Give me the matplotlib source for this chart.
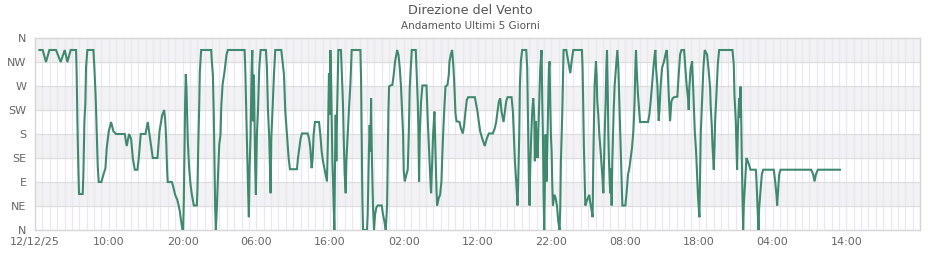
import matplotlib
matplotlib.use("Agg")
import matplotlib.pyplot as plt

# ---- data: hours since 12/12/25 00:00, wind direction in degrees ----
hours = [
    0.59, 1.04, 1.49, 1.95, 2.85, 3.48, 4.03, 4.39, 4.84, 5.57, 5.65, 5.75, 5.88, 5.97, 6.47, 6.56, 6.70, 6.83, 6.92, 7.10,
    7.92, 8.05, 8.24, 8.37, 8.51, 8.64, 9.0, 9.28, 9.55, 9.73, 10.0, 10.32, 10.63, 11.0, 12.17, 12.44, 12.76, 13.03, 13.26, 13.53,
    13.89, 14.07, 14.34, 14.98, 15.29, 15.52, 15.88, 15.97, 16.61, 16.88, 17.24, 17.51, 17.65, 17.78, 17.92, 18.0,
    18.55, 18.73, 19.0, 19.28, 19.46, 19.64, 19.82, 20.0, 20.09, 20.18, 20.27, 20.36, 20.45, 20.54, 20.63, 20.72, 20.9, 21.09,
    21.27, 21.54, 21.95, 22.04, 22.13, 22.26, 22.35, 22.53, 23.89, 23.98, 24.12, 24.25, 24.34, 24.43, 24.52, 24.66, 24.8, 24.98,
    25.16, 25.25, 25.43, 25.7, 25.97, 26.15, 28.42, 28.51, 28.64, 28.78, 28.91, 29.0, 29.1, 29.23, 29.37, 29.46, 29.55, 29.68,
    29.77, 29.86, 29.95, 30.09, 30.23, 30.41, 30.59, 31.31, 31.45, 31.58, 31.76, 31.95, 32.04, 32.22, 32.4, 32.58, 33.39, 33.57,
    33.76, 33.94, 34.16, 34.39, 34.57, 35.52, 35.66, 35.84, 36.02, 36.2,
    36.97, 37.15, 37.33, 37.51, 37.65, 37.78, 37.96, 38.51, 38.69, 38.87, 39.05, 39.23, 39.41, 39.59, 39.73, 39.86, 39.95, 40.05,
    40.14, 40.23, 40.32, 40.41, 40.5, 40.59, 40.68, 40.77, 40.86, 40.95, 41.04, 41.13, 41.49, 41.58, 41.76, 41.86, 41.99, 42.13,
    42.22, 42.4, 42.58, 42.76, 42.94, 44.12, 44.21, 44.3, 44.39, 44.48, 45.02, 45.11, 45.29, 45.38, 45.48, 45.57, 45.66, 45.75,
    45.84, 45.97, 46.11, 46.29, 46.47, 47.01, 47.19, 47.38, 47.56, 47.74, 47.83, 47.92, 48.01, 48.19, 48.46, 48.64, 48.82, 49.0,
    49.1, 49.28, 49.46, 49.64, 49.77, 49.91, 50.0, 50.14, 50.36, 50.54, 50.68, 50.81, 50.95, 51.09, 51.63, 51.72, 51.9, 51.99,
    52.08, 52.17, 52.35, 52.53, 53.08, 53.26, 53.44, 53.62, 53.71, 53.85, 53.98, 54.16, 54.3, 54.43, 54.52,
    54.75, 54.93, 55.11, 55.2, 55.34, 55.48, 55.66, 55.93, 56.11, 56.2, 56.38, 56.56, 56.65, 56.74, 56.88, 57.01, 57.15, 57.56,
    57.74, 58.01, 58.19, 58.37, 58.55, 58.73, 59.64, 59.82, 60.0, 60.18, 60.36, 60.63, 60.99, 61.27, 61.54, 62.08, 62.35, 62.53,
    62.71, 62.9, 63.08, 63.26, 63.53, 63.71, 63.89, 64.07, 64.62, 64.8, 64.93, 65.07, 65.25, 65.43, 65.52, 65.66, 65.75, 65.88,
    66.06, 66.61, 66.74, 66.88, 66.97, 67.06, 67.15, 67.29, 67.42, 67.56, 67.69, 67.78, 67.87, 68.01, 68.14, 68.24, 68.37, 68.51,
    68.69, 68.78, 68.87, 68.96, 69.05, 69.14, 69.23, 69.37, 69.5, 69.68, 69.77, 69.86, 69.95, 70.05, 70.14, 70.23, 70.41, 70.59,
    70.77, 70.95, 71.13, 71.22, 71.31, 71.49, 71.67, 72.04, 72.31, 72.58, 72.76, 72.99, 74.16,
    74.25, 74.34, 74.43, 74.52, 74.62, 74.8, 74.98, 75.16, 75.25, 75.43, 75.61, 75.7, 75.79, 75.88, 76.06, 76.15, 76.24, 76.38,
    76.52, 76.7, 76.88, 76.97, 77.06, 77.15, 77.24, 77.38, 77.47, 77.56, 77.65, 77.74, 77.83, 77.92, 78.01, 78.1, 78.19, 78.28,
    78.37, 78.46, 78.6, 78.78, 78.96, 79.1, 79.23, 79.41, 79.55, 79.64, 80.05, 80.23, 80.41, 80.59, 80.77, 80.95, 81.13, 81.22,
    81.31, 81.4, 81.49, 81.58, 81.76, 82.04, 83.12, 83.3, 83.48, 83.67, 83.85, 84.03, 84.12, 84.21, 84.39, 84.57, 84.66, 84.84,
    85.02, 85.29, 85.48, 85.66, 85.75, 85.93, 86.11, 86.29, 86.47, 86.65, 87.1, 87.28, 87.47, 87.65, 88.01, 88.19, 88.37, 88.55,
    88.64, 88.73, 88.91, 89.1, 89.28, 89.46, 89.64, 89.82, 89.91, 90.09, 90.18, 90.27, 90.45, 90.63, 90.81,
    91.13, 91.36, 91.54, 91.62, 91.76, 91.86, 92.04, 92.13, 92.22, 92.4, 92.58, 92.76, 94.57, 94.75, 94.84, 95.02, 95.11, 95.2,
    95.29, 95.38, 95.48, 95.57, 95.66, 95.75, 95.84, 95.93, 96.02, 96.11, 96.29, 96.47, 96.65, 96.83, 97.01, 97.74, 97.83, 97.96,
    98.1, 98.19, 98.37, 98.55, 98.73, 100.18, 100.36, 100.54, 100.63, 100.72, 100.9, 101.09, 105.25, 105.52, 105.7, 105.88,
    106.15, 109.14,
]
direction = [
    337.5, 337.5, 315, 337.5, 337.5, 315, 337.5, 315, 337.5, 337.5, 292.5, 202.5, 113, 67.5, 67.5, 104, 204, 238, 305, 337.5,
    337.5, 305, 244, 182, 119, 90, 90, 104, 116, 154, 185, 202.5, 185, 180, 180, 157.5, 180, 171, 135, 113,
    113, 135, 180, 180, 202.5, 180, 144, 135, 135, 185, 215, 225, 207, 172, 110, 90,
    90, 82, 66, 57, 47, 35, 16, 0, 0, 54, 147, 241, 292.5, 266, 216, 166, 116, 85,
    66, 46, 46, 82, 154, 229, 297, 337.5, 337.5, 316, 291, 210, 129, 41, 0, 41, 97, 160,
    179, 229, 272, 297, 329, 337.5, 337.5, 304, 222, 141, 66, 24, 116, 179, 297, 337.5, 204, 291,
    204, 116, 66, 179, 222, 304, 337.5, 337.5, 304, 229, 172, 69, 172, 229, 291, 337.5, 337.5, 316,
    291, 222, 179, 135, 114, 114, 135, 154, 172, 181,
    181, 172, 154, 116, 135, 179, 202.5, 202.5, 179, 147, 129, 116, 104, 91, 179, 294, 216, 337.5,
    294, 216, 129, 91, 44, 0, 129, 216, 129, 216, 272, 337.5, 337.5, 304, 235, 172, 104, 69,
    129, 179, 229, 272, 337.5, 337.5, 285, 172, 60, 0, 0, 29, 154, 197, 147, 247, 154, 91,
    41, 0, 29, 42, 46, 46, 29, 16, 0, 47, 135, 222, 269, 271, 272, 291, 316, 329,
    337.5, 329, 304, 266, 222, 179, 110, 91, 104, 113, 179, 266, 304, 337.5, 337.5, 306, 241, 185,
    91, 179, 241, 271, 271, 204, 147, 91, 69, 129, 179, 222, 147, 79, 46,
    60, 66, 91, 129, 179, 222, 269, 272, 291, 316, 329, 337.5, 322, 304, 266, 219, 204, 202.5,
    191, 181, 197, 222, 244, 249, 249, 235, 222, 202.5, 185, 172, 157.5, 172, 181, 181, 191, 202.5,
    222, 241, 247, 222, 202.5, 222, 241, 249, 249, 222, 179, 129, 91, 46, 91, 179, 272, 316,
    337.5, 337.5, 304, 179, 91, 46, 116, 179, 222, 247, 216, 129, 204, 179, 135, 179, 241, 304,
    337.5, 241, 179, 66, 0, 91, 179, 91, 179, 304, 316, 241, 179, 147, 85, 46, 66, 60,
    46, 16, 0, 41, 129, 216, 337.5, 337.5, 316, 294, 316, 337.5, 337.5,
    304, 229, 154, 104, 46, 54, 60, 66, 54, 41, 24, 129, 204, 272, 316, 291, 241, 216,
    179, 147, 110, 91, 69, 129, 179, 241, 304, 337.5, 272, 179, 129, 91, 69, 116, 46, 129,
    179, 222, 272, 304, 337.5, 304, 241, 154, 91, 46, 46, 72, 104, 116, 135, 154, 185, 210,
    247, 304, 337.5, 304, 254, 202.5, 202.5, 216, 241, 272, 304, 329, 337.5, 304, 272, 205, 222, 272,
    304, 316, 329, 337.5, 316, 254, 204, 241, 247, 249, 250, 291, 329, 337.5, 337.5, 304, 269, 247,
    225, 269, 304, 316, 254, 185, 147, 91, 60, 24, 104, 179, 241, 304, 337.5,
    329, 297, 266, 232, 197, 160, 113, 154, 204, 254, 310, 337.5, 337.5, 310, 254, 204, 160, 113,
    179, 216, 247, 210, 269, 216, 129, 66, 0, 47, 91, 135, 129, 122, 113, 113, 91, 47,
    0, 41, 72, 104, 113, 113, 91, 66, 46, 66, 104, 113, 113, 104, 91, 104,
    113, 113,
]

y_ticks = [0, 45, 90, 135, 180, 225, 270, 315, 360]
y_labels = ["N", "NE", "E", "SE", "S", "SW", "W", "NW", "N"]
x_ticks = [0, 10, 20, 30, 40, 50, 60, 70, 80, 90, 100, 110]
x_labels = ["12/12/25", "10:00", "20:00", "06:00", "16:00", "02:00",
            "12:00", "22:00", "08:00", "18:00", "04:00", "14:00"]
title = "Direzione del Vento"
subtitle = "Andamento Ultimi 5 Giorni"

fig = plt.figure(figsize=(9.4, 2.6), dpi=100)
ax = fig.add_axes([35 / 940, 30 / 260, 885 / 940, 192 / 260])

ax.set_xlim(0, 120)
ax.set_ylim(0, 360)

# alternating bands
for lo in (45, 135, 225, 315):
    ax.axhspan(lo, lo + 45, color="#f2f2f2", zorder=0, lw=0)
# hourly vertical grid
for h in range(1, 120):
    ax.axvline(h, color="#e8e6f8", lw=0.9, zorder=1)
# horizontal grid
for yv in y_ticks[1:-1]:
    ax.axhline(yv, color="#dedede", lw=0.9, zorder=1)

ax.plot(hours, direction, color="#3f8a6f", lw=1.5, zorder=3,
        solid_joinstyle="miter")

ax.set_yticks(y_ticks)
ax.set_yticklabels(y_labels)
ax.set_xticks(x_ticks)
ax.set_xticklabels(x_labels)
ax.tick_params(length=0, labelsize=8, colors="#666666", pad=5)
ax.tick_params(axis="y", pad=6)
for s in ax.spines.values():
    s.set_color("#d6d6d6")
    s.set_linewidth(1.0)

fig.text(0.5, 1 - 11 / 260, title, ha="center", va="center",
         fontsize=9.2, color="#555555")
fig.text(0.5, 1 - 26 / 260, subtitle, ha="center", va="center",
         fontsize=7.5, color="#555555")

fig.savefig("out.png", dpi=100)
